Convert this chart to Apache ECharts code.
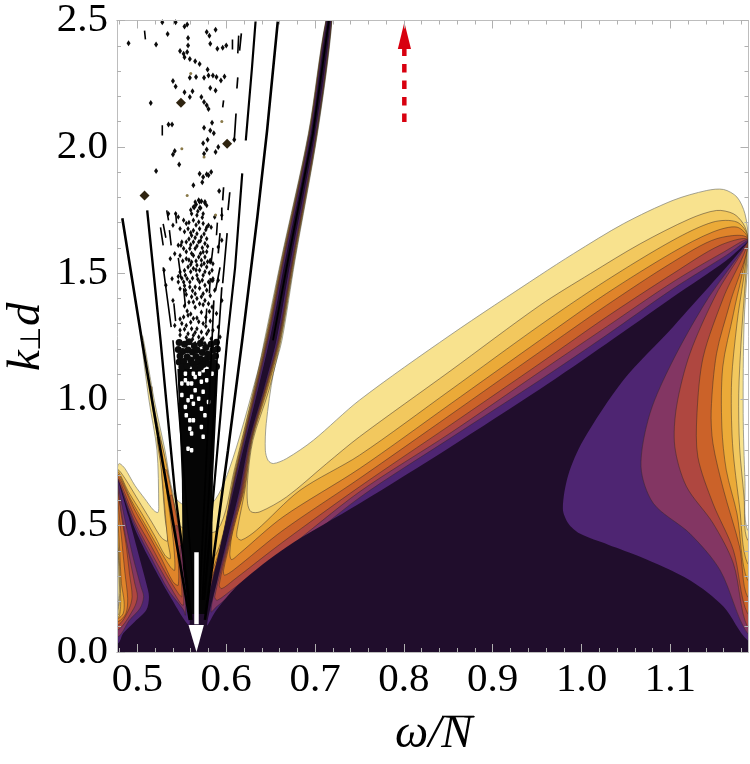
<!DOCTYPE html>
<html>
<head>
<meta charset="utf-8">
<style>html,body{margin:0;padding:0;background:#fff}#chart{width:750px;height:764px}</style>
<script src="https://cdn.jsdelivr.net/npm/echarts@6/dist/echarts.min.js"></script>
</head>
<body>
<div id="chart"></div>
<script>
var xMin = 0.477, xMax = 1.188, yMin = 0, yMax = 2.5;
var xTicks = [0.5, 0.6, 0.7, 0.8, 0.9, 1.0, 1.1];
var xMinorTicks = [0.48, 0.52, 0.54, 0.56, 0.58, 0.62, 0.64, 0.66, 0.68, 0.72, 0.74, 0.76, 0.78, 0.82, 0.84, 0.86, 0.88, 0.92, 0.94, 0.96, 0.98, 1.02, 1.04, 1.06, 1.08, 1.12, 1.14, 1.16, 1.18];

// contour levels, light to dark, each is [omega, k] going from lower left, over the spikes, to lower right
var levelColors = ['#F8E28E', '#F2C85E', '#EBAA38', '#E0842A', '#CB6229', '#AF4740', '#833663', '#4E2572', '#200D2C'];
var contour1 = [[.477,.166],[.478,.245],[.478,.403],[.478,.575],[.477,.707],[.478,.740],[.480,.746],[.486,.726],[.497,.660],[.508,.608],[.518,.562],[.523,.552],[.524,.575],[.522,.799],[.513,.997],[.504,1.25],[.506,1.25],[.519,.997],[.531,.799],[.541,.621],[.553,.582],[.582,.582],[.603,.720],[.635,1.104],[.643,1.234],[.6616,1.551],[.6925,2.053],[.7122,2.5],[.719,2.5],[.7027,2.053],[.6774,1.551],[.6627,1.234],[.653,1.102],[.645,.904],[.644,.799],[.647,.759],[.653,.746],[.668,.766],[.698,.838],[.750,.997],[.852,1.254],[.953,1.491],[.991,1.577],[1.047,1.695],[1.103,1.788],[1.141,1.827],[1.160,1.831],[1.175,1.801],[1.184,1.735],[1.188,1.630],[1.187,1.537],[1.183,1.300],[1.182,.944],[1.184,.680],[1.187,.482]];
var contour2 = [[.478,.146],[.479,.179],[.480,.232],[.479,.337],[.478,.443],[.478,.601],[.478,.720],[.486,.687],[.501,.601],[.516,.515],[.527,.453],[.534,.440],[.531,.534],[.528,.669],[.525,.799],[.516,.997],[.5155,1.05],[.5165,1.05],[.517,.997],[.529,.799],[.534,.680],[.543,.522],[.556,.483],[.590,.483],[.609,.720],[.6438,1.234],[.6622,1.551],[.6929,2.053],[.7124,2.5],[.7188,2.5],[.7023,2.053],[.6768,1.551],[.6614,1.234],[.648,1.036],[.630,.838],[.624,.680],[.624,.588],[.628,.555],[.638,.555],[.668,.614],[.713,.746],[.750,.852],[.852,1.112],[.953,1.372],[1.010,1.498],[1.066,1.616],[1.122,1.715],[1.152,1.748],[1.171,1.735],[1.182,1.696],[1.187,1.643],[1.180,1.247],[1.177,1.023],[1.178,.812],[1.183,.614],[1.187,.443]];
var contour3 = [[.478,.136],[.481,.179],[.481,.232],[.480,.337],[.478,.443],[.478,.601],[.478,.713],[.490,.634],[.505,.548],[.520,.456],[.531,.383],[.537,.370],[.534,.443],[.527,.720],[.522,.850],[.525,.850],[.534,.720],[.546,.443],[.559,.384],[.588,.384],[.610,.720],[.6445,1.234],[.6627,1.551],[.6932,2.053],[.7127,2.5],[.7185,2.5],[.7020,2.053],[.6763,1.551],[.6607,1.234],[.646,1.036],[.629,.838],[.621,.640],[.613,.495],[.612,.456],[.617,.443],[.634,.482],[.683,.640],[.750,.779],[.852,1.036],[.953,1.293],[1.028,1.471],[1.103,1.630],[1.148,1.702],[1.175,1.702],[1.187,1.643],[1.175,1.300],[1.169,1.076],[1.170,.825],[1.178,.574],[1.187,.350]];
var contour4 = [[.478,.133],[.484,.153],[.485,.199],[.482,.271],[.480,.403],[.478,.535],[.478,.704],[.493,.601],[.508,.509],[.523,.417],[.537,.337],[.542,.324],[.540,.450],[.530,.720],[.533,.720],[.550,.450],[.560,.330],[.585,.330],[.611,.720],[.6452,1.234],[.6633,1.551],[.6935,2.053],[.7128,2.5],[.7184,2.5],[.7017,2.053],[.6757,1.551],[.6600,1.234],[.645,1.036],[.6285,.838],[.620,.640],[.608,.495],[.604,.390],[.606,.366],[.615,.390],[.664,.535],[.750,.726],[.852,.981],[.953,1.234],[1.028,1.419],[1.103,1.583],[1.148,1.663],[1.175,1.682],[1.187,1.636],[1.171,1.339],[1.159,1.128],[1.158,.891],[1.163,.720],[1.175,.548],[1.187,.284]];
var contour5 = [[.478,.120],[.487,.153],[.489,.212],[.486,.311],[.482,.456],[.478,.601],[.478,.696],[.497,.562],[.512,.469],[.527,.370],[.540,.278],[.546,.265],[.545,.400],[.537,.620],[.539,.620],[.552,.400],[.561,.300],[.584,.300],[.6114,.720],[.6457,1.234],[.6639,1.551],[.6938,2.053],[.7129,2.5],[.7183,2.5],[.7014,2.053],[.6751,1.551],[.6595,1.234],[.644,1.036],[.628,.838],[.619,.640],[.605,.443],[.597,.324],[.598,.304],[.608,.324],[.664,.482],[.750,.687],[.852,.938],[.953,1.188],[1.028,1.372],[1.103,1.544],[1.152,1.636],[1.187,1.636],[1.167,1.379],[1.152,1.181],[1.146,.957],[1.148,.825],[1.160,.640],[1.178,.416],[1.187,.218]];
var contour6 = [[.478,.106],[.490,.166],[.494,.219],[.491,.311],[.487,.430],[.481,.562],[.478,.687],[.497,.535],[.516,.417],[.531,.318],[.546,.232],[.550,.219],[.548,.330],[.543,.500],[.545,.500],[.555,.330],[.562,.270],[.582,.270],[.6118,.720],[.6463,1.234],[.6642,1.551],[.6940,2.053],[.7130,2.5],[.7182,2.5],[.7012,2.053],[.6748,1.551],[.6589,1.234],[.6435,1.036],[.6275,.838],[.618,.640],[.604,.443],[.592,.265],[.595,.251],[.608,.284],[.664,.436],[.750,.654],[.852,.898],[.953,1.142],[1.028,1.326],[1.103,1.498],[1.156,1.610],[1.187,1.630],[1.160,1.405],[1.137,1.168],[1.130,.944],[1.131,.772],[1.148,.588],[1.171,.403],[1.187,.152]];
var contour7 = [[.478,.087],[.496,.173],[.500,.219],[.497,.271],[.491,.377],[.484,.509],[.478,.674],[.497,.515],[.516,.390],[.535,.271],[.549,.190],[.552,.186],[.551,.280],[.548,.420],[.550,.420],[.557,.280],[.563,.220],[.579,.220],[.6122,.720],[.6467,1.234],[.6645,1.551],[.6942,2.053],[.7131,2.5],[.7181,2.5],[.7010,2.053],[.6745,1.551],[.6585,1.234],[.643,1.036],[.627,.838],[.617,.640],[.603,.443],[.587,.218],[.590,.205],[.608,.251],[.664,.396],[.750,.634],[.852,.866],[.953,1.109],[1.028,1.287],[1.103,1.465],[1.160,1.583],[1.187,1.630],[1.152,1.419],[1.122,1.181],[1.107,.972],[1.105,.814],[1.118,.656],[1.148,.510],[1.171,.350],[1.187,.099]];
var contour8 = [[.478,.060],[.491,.126],[.503,.173],[.507,.219],[.504,.258],[.495,.377],[.486,.522],[.478,.680],[.497,.502],[.516,.370],[.535,.245],[.552,.166],[.554,.146],[.554,.230],[.552,.340],[.553,.340],[.559,.230],[.564,.180],[.577,.180],[.6125,.720],[.6472,1.234],[.6650,1.551],[.6944,2.053],[.7132,2.5],[.7180,2.5],[.7008,2.053],[.6740,1.551],[.6580,1.234],[.6425,1.036],[.6265,.838],[.616,.640],[.602,.443],[.587,.245],[.583,.159],[.589,.179],[.608,.232],[.664,.370],[.750,.611],[.852,.846],[.953,1.076],[1.028,1.254],[1.103,1.438],[1.163,1.570],[1.187,1.626],[1.141,1.392],[1.103,1.155],[1.077,.944],[1.067,.733],[1.081,.588],[1.122,.469],[1.156,.324],[1.187,.073]];
var contour9 = [[.478,.034],[.484,.074],[.497,.120],[.510,.166],[.513,.219],[.510,.271],[.501,.390],[.490,.535],[.478,.687],[.497,.489],[.516,.351],[.537,.219],[.558,.107],[.560,.170],[.574,.170],[.579,.206],[.595,.443],[.6135,.720],[.6486,1.234],[.6662,1.551],[.6952,2.053],[.7135,2.5],[.7177,2.5],[.7000,2.053],[.6728,1.551],[.6566,1.234],[.642,1.036],[.626,.838],[.615,.640],[.601,.443],[.590,.284],[.5785,.106],[.589,.166],[.615,.271],[.668,.416],[.750,.588],[.852,.811],[.953,1.040],[1.028,1.220],[1.103,1.405],[1.163,1.550],[1.187,1.622],[1.103,1.287],[1.047,1.076],[1.002,.838],[.985,.700],[.979,.568],[.985,.510],[.998,.469],[1.030,.425],[1.066,.377],[1.122,.284],[1.160,.179],[1.187,.047]];
var contours = [contour1, contour2, contour3, contour4, contour5, contour6, contour7, contour8, contour9];

// black fan lines, '-' breaks a line where the picture has a gap
var spikeA = [[.483,1.717],[.505,1.234],[.526,.799],[.559,.127]];
var lineB = [[.511,1.748],[.526,1.234],[.542,.641],[.561,.127]];
var lineC = [[.526,1.681],[.529,1.610],'-',[.529,1.523],[.538,1.286],'-',[.540,1.234],[.566,.127]];
var lineR1 = [[.658,2.496],[.646,2.065],[.635,1.721],[.618,1.234],[.602,.799],[.576,.127]];
var lineR2 = [[.633,2.496],[.629,2.314],[.622,2.025],'-',[.618,1.895],[.610,1.523],[.601,1.234],[.575,.206]];
var lineR3 = [[.617,2.449],[.615,2.381],'-',[.613,2.275],[.612,2.231],'-',[.611,2.132],[.609,2.025],'-',[.604,1.820],[.602,1.749],'-',[.601,1.658],[.596,1.460],'-',[.595,1.444],[.591,1.234],[.573,.206]];
var lineR4 = [[.597,2.184],[.596,2.156],'-',[.597,1.840],[.596,1.788],'-',[.595,1.760],[.595,1.709],'-',[.593,1.658],[.591,1.578],'-',[.593,1.523],[.588,1.432],'-',[.586,1.392],[.584,1.234],[.570,.206]];
var spikeCore = [[.7156,2.5],[.6976,2.053],[.6695,1.551],[.6526,1.234]];
var shortDashes = [[.533,1.748],[.535,1.709],'-',[.543,1.741],[.544,1.697],'-',[.529,1.695],[.532,1.640],'-',[.536,1.670],[.538,1.610],'-',[.590,1.700],[.589,1.650],'-',[.585,1.600],[.583,1.540],'-',[.582,1.480],[.581,1.420],'-',[.578,1.360],[.577,1.300],'-',[.546,1.560],[.549,1.480],'-',[.552,1.440],[.554,1.370],'-',[.541,1.380],[.543,1.310],'-',[.508,2.460],[.509,2.425],'-',[.528,2.085],[.528,2.045],'-',[.607,2.425],[.607,2.385],'-',[.614,2.440],[.613,2.370]];
var centerWedge = [[.545,1.120],[.591,1.120],[.585,.680],[.584,.340],[.577,.150],[.558,.150],[.551,.340],[.550,.680]];

// scattered specks above the fan
var sparseDots = [[.490,2.410],[.521,2.405],[.534,2.447],[.528,2.493],[.543,2.493],[.556,2.484],[.553,2.476],[.578,2.454],[.581,2.440],[.588,2.463],[.582,2.408],[.557,2.431],[.557,2.401],[.590,2.388],[.596,2.392],[.600,2.401],[.548,2.379],[.552,2.368],[.556,2.375],[.553,2.355],[.559,2.348],[.565,2.339],[.570,2.328],[.579,2.306],[.585,2.282],[.589,2.276],[.594,2.262],[.598,2.278],[.580,2.282],[.540,2.260],[.543,2.239],[.559,2.273],[.566,2.276],[.575,2.273],[.582,2.233],[.588,2.223],[.553,2.216],[.559,2.197],[.562,2.220],[.572,2.197],[.575,2.177],[.578,2.164],[.580,2.150],[.515,2.173],[.584,2.095],[.575,2.075],[.582,2.065],[.586,2.054],[.535,2.088],[.539,2.088],[.579,2.028],[.574,2.014],[.591,1.999],[.588,1.979],[.609,2.028],[.578,1.989],[.575,1.972],[.542,1.983],[.540,1.970],[.547,1.930],[.521,1.904],[.570,1.893],[.578,1.891],[.583,1.900],[.574,1.880],[.580,1.887],[.573,1.860],[.563,1.848],[.592,1.825],[.569,1.788],[.572,1.784],[.576,1.781],[.566,1.772],[.564,1.761],[.571,1.758]];
var bigDots = [[.549,2.174],[.601,2.012],[.508,1.807]];
var tanDots = [[.550,1.992],[.556,1.807],[.595,2.100],[.560,2.290],[.575,1.960],[.588,1.730]];
var denseDots = [[.565,1.781],[.570,1.781],[.576,1.777],[.563,1.762],[.570,1.759],[.578,1.768],[.561,1.735],[.567,1.729],[.574,1.735],[.546,1.722],[.552,1.709],[.555,1.696],[.563,1.709],[.569,1.702],[.574,1.696],[.580,1.689],[.548,1.676],[.557,1.676],[.563,1.669],[.570,1.676],[.578,1.682],[.561,1.649],[.567,1.656],[.572,1.643],[.578,1.636],[.550,1.623],[.555,1.623],[.563,1.623],[.569,1.623],[.576,1.617],[.546,1.610],[.552,1.597],[.559,1.597],[.565,1.597],[.574,1.584],[.542,1.577],[.548,1.570],[.563,1.570],[.569,1.564],[.576,1.564],[.555,1.557],[.561,1.544],[.582,1.551],[.585,1.537],[.567,1.531],[.572,1.531],[.578,1.524],[.557,1.524],[.563,1.518],[.570,1.511],[.584,1.511],[.548,1.504],[.554,1.491],[.567,1.491],[.574,1.491],[.585,1.478],[.546,1.465],[.552,1.465],[.559,1.465],[.570,1.465],[.576,1.452],[.548,1.438],[.554,1.432],[.565,1.445],[.584,1.471],[.561,1.406],[.567,1.399],[.572,1.406],[.576,1.392],[.580,1.379],[.584,1.366],[.563,1.386],[.570,1.379],[.589,1.340],[.552,1.326],[.557,1.333],[.563,1.320],[.569,1.307],[.574,1.300],[.550,1.300],[.555,1.293],[.561,1.280],[.567,1.280],[.572,1.267],[.578,1.260],[.557,1.260],[.563,1.254],[.569,1.247],[.574,1.241],[.559,1.227],[.565,1.221],[.570,1.214],[.576,1.221]];
var denseDots2 = [[.535,1.735],[.540,1.689],[.543,1.735],[.537,1.557],[.530,1.511],[.532,1.452],[.540,1.392],[.546,1.487],[.539,1.478],[.542,1.293],[.548,1.274],[.587,1.722],[.595,1.729],[.583,1.682],[.595,1.630],[.591,1.603],[.582,1.544],[.591,1.472],[.585,1.472],[.587,1.432],[.595,1.392],[.591,1.287],[.585,1.274],[.593,1.247],[.560,1.750],[.568,1.745],[.573,1.720],[.558,1.700],[.566,1.690],[.577,1.672],[.553,1.664],[.560,1.660],[.575,1.655],[.565,1.640],[.558,1.635],[.571,1.628],[.549,1.610],[.560,1.612],[.567,1.607],[.573,1.600],[.579,1.606],[.555,1.585],[.561,1.578],[.571,1.578],[.578,1.585],[.551,1.548],[.558,1.552],[.566,1.548],[.572,1.551],[.579,1.545],[.560,1.534],[.575,1.538],[.553,1.510],[.560,1.505],[.566,1.512],[.576,1.505],[.581,1.500],[.550,1.480],[.556,1.478],[.562,1.480],[.568,1.476],[.573,1.472],[.580,1.465],[.553,1.450],[.559,1.445],[.562,1.430],[.570,1.440],[.578,1.432],[.555,1.415],[.565,1.418],[.574,1.418],[.582,1.410],[.558,1.385],[.574,1.375],[.553,1.370],[.565,1.365],[.581,1.348],[.556,1.350],[.572,1.345],[.560,1.338],[.577,1.325],[.548,1.318],[.567,1.322],[.582,1.310],[.560,1.305],[.577,1.290],[.553,1.278],[.565,1.265],[.580,1.272],[.548,1.255],[.555,1.245],[.583,1.240],[.572,1.235],[.562,1.238]];
var denseDots3 = [[.547,1.225],[.553,1.218],[.558,1.228],[.564,1.212],[.571,1.222],[.577,1.205],[.583,1.218],[.589,1.226],[.546,1.198],[.551,1.190],[.557,1.196],[.562,1.188],[.567,1.196],[.573,1.186],[.579,1.180],[.585,1.195],[.590,1.200],[.548,1.172],[.556,1.168],[.560,1.156],[.566,1.170],[.571,1.160],[.577,1.158],[.583,1.166],[.588,1.172],[.547,1.148],[.552,1.150],[.562,1.142],[.568,1.148],[.574,1.138],[.580,1.142],[.586,1.146],[.550,1.128],[.556,1.132],[.565,1.125],[.571,1.128],[.584,1.126],[.589,1.130]];
// white flecks inside the solid middle of the fan
var whiteFlecks = [[.554,1.102],[.563,1.102],[.570,1.102],[.584,1.102],[.574,1.115],[.554,1.076],[.557,1.063],[.561,1.063],[.565,1.089],[.572,1.070],[.578,1.076],[.550,1.063],[.561,1.010],[.557,.997],[.565,1.036],[.574,1.030],[.554,.970],[.563,.983],[.572,.963],[.580,.990],[.550,1.017],[.569,1.003],[.559,.917],[.563,.917],[.559,.884],[.561,.865],[.572,.891],[.574,.852],[.557,.805],[.561,.799],[.576,.937],[.555,.937]];

// annotation arrows, in axis units
var whiteShaft = [[.5665,.395],[.5665,.11]];
var whiteHead = [[.5575,.107],[.5665,0],[.5748,.107]];
var redShaft = [[.8005,2.098],[.8005,2.39]];
var redHead = [[.7932,2.387],[.8005,2.493],[.8080,2.387]];

function polygonSeries(points, fill, stroke, smooth) {
    return {
        type: 'custom', coordinateSystem: 'cartesian2d', clip: true, silent: true, data: [0],
        renderItem: function (params, api) {
            return {
                type: 'polygon',
                shape: { points: points.map(function (p) { return api.coord(p); }), smooth: smooth || 0 },
                style: { fill: fill, stroke: stroke, lineWidth: stroke ? 0.8 : 0 }
            };
        }
    };
}
function lineSeries(points, width, color) {
    return {
        type: 'line', data: points, symbol: 'none', silent: true, animation: false,
        lineStyle: { width: width, color: color || '#000' }
    };
}
function dotSeries(points, symbol, size, color) {
    return {
        type: 'scatter', data: points, symbol: symbol, symbolSize: size, silent: true,
        itemStyle: { color: color, opacity: 1 }
    };
}

var series = [];
contours.forEach(function (c, i) {
    var closed = [[xMin - 0.02, -0.05], [xMin - 0.02, c[0][1]]].concat(c, [[xMax + 0.02, c[c.length - 1][1]], [xMax + 0.02, -0.05]]);
    series.push(polygonSeries(closed, levelColors[i], i == 8 ? null : (i == 0 ? '#8d8d80' : 'rgba(50,40,40,0.6)'), 0.3));
});
series.push(polygonSeries(centerWedge, '#050505'));
series.push(dotSeries(whiteFlecks, 'roundRect', [3.5, 4.5], '#fff'));
series.push(lineSeries(spikeCore, 1.8));
series.push(lineSeries(spikeA, 2.6));
series.push(lineSeries(lineB, 2.4));
series.push(lineSeries(lineC, 1.6));
series.push(lineSeries(lineR1, 2.6));
series.push(lineSeries(lineR2, 2.2));
series.push(lineSeries(lineR3, 1.7));
series.push(lineSeries(lineR4, 1.7));
series.push(lineSeries(shortDashes, 1.6));
series.push(dotSeries(sparseDots, 'diamond', [4, 6], '#0b0b0b'));
series.push(dotSeries(denseDots, 'diamond', [3.5, 5.5], '#0b0b0b'));
series.push(dotSeries(denseDots2, 'diamond', [3.5, 5.5], '#0b0b0b'));
series.push(dotSeries(denseDots3, 'circle', [7, 7], '#0b0b0b'));
series.push(dotSeries(bigDots, 'diamond', 10, '#2f2410'));
series.push(dotSeries(tanDots, 'circle', 3, '#8a7a4a'));
series.push(lineSeries(whiteShaft, 4.5, '#fff'));
series.push(polygonSeries(whiteHead, '#fff'));
var red = lineSeries(redShaft, 4.5, '#D8000F');
red.lineStyle.type = [8.5, 8];
series.push(red);
series.push(polygonSeries(redHead, '#D8000F'));

var frame = { show: true, onZero: false, lineStyle: { color: '#bdbdbd', width: 1 } };
function xAxis(position, values, len, labels) {
    return {
        type: 'value', position: position, min: xMin, max: xMax, splitLine: { show: false }, z: 20,
        axisLine: frame,
        axisTick: { show: true, inside: true, length: len, customValues: values, lineStyle: { color: '#b0b0b0', width: 1 } },
        axisLabel: labels ? { show: true, customValues: values, margin: 8, fontFamily: 'Liberation Serif', fontSize: 41, color: '#000', formatter: function (v) { return v.toFixed(1); } } : { show: false }
    };
}
function yAxis(position, labels) {
    return {
        type: 'value', position: position, min: yMin, max: yMax, interval: 0.5, splitLine: { show: false }, z: 20,
        axisLine: frame,
        axisTick: { show: true, inside: true, length: 8, lineStyle: { color: '#b0b0b0', width: 1 } },
        minorTick: { show: true, splitNumber: 5, length: 4, lineStyle: { color: '#b0b0b0', width: 1 } },
        axisLabel: labels ? { show: true, margin: 9, fontFamily: 'Liberation Serif', fontSize: 41, color: '#000', formatter: function (v) { return v.toFixed(1); } } : { show: false }
    };
}

var chart = echarts.init(document.getElementById('chart'), null, { renderer: 'canvas' });
chart.setOption({
    animation: false,
    backgroundColor: '#fff',
    grid: { left: 117, right: 1.5, top: 20.5, bottom: 112, containLabel: false },
    xAxis: [xAxis('bottom', xTicks, 8, true), xAxis('bottom', xMinorTicks, 4), xAxis('top', xTicks, 8), xAxis('top', xMinorTicks, 4)],
    yAxis: [yAxis('left', true), yAxis('right')],
    series: series,
    graphic: [
        { type: 'text', x: 395, y: 711, style: { text: 'ω/N', font: 'italic 47px "Liberation Serif"', fill: '#000' } },
        { type: 'line', shape: { x1: 442, y1: 716.5, x2: 474, y2: 716.5 }, style: { stroke: '#000', lineWidth: 1.6 } },
        { type: 'text', x: 3, y: 371, rotation: Math.PI / 2, style: { text: 'k', font: 'italic 47px "Liberation Serif"', fill: '#000' } },
        { type: 'text', x: 19, y: 351, rotation: Math.PI / 2, style: { text: '⊥', font: '28px "DejaVu Sans"', fill: '#000' } },
        { type: 'text', x: 3, y: 326, rotation: Math.PI / 2, style: { text: 'd', font: 'italic 47px "Liberation Serif"', fill: '#000' } }
    ]
});
</script>
</body>
</html>
